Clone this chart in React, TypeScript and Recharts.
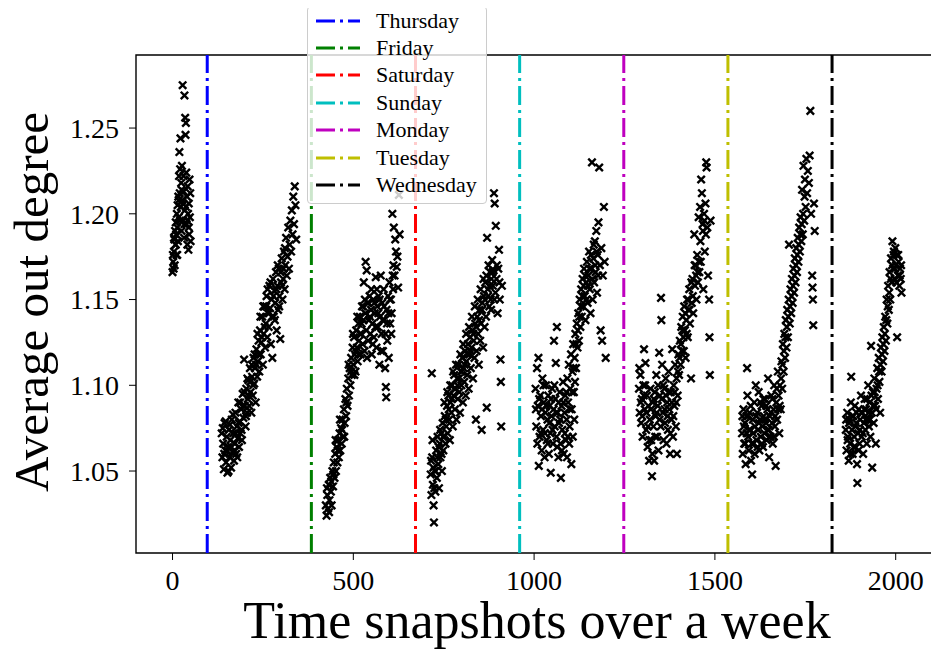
import React from 'react'
import {
  ScatterChart,
  Scatter,
  XAxis,
  YAxis,
  ReferenceLine,
  ReferenceArea,
  Label,
} from 'recharts'

// snapshots (x) and average out degree (y), one list per stretch of the week
const thursdayEarly = [
  [0, 1.166], [2, 1.172], [3, 1.168], [4, 1.178], [5, 1.185], [6, 1.17], [7, 1.19], [8, 1.182],
  [9, 1.195], [10, 1.188], [11, 1.176], [12, 1.2], [13, 1.192], [14, 1.205], [15, 1.184], [16, 1.21],
  [17, 1.198], [18, 1.222], [19, 1.236], [20, 1.212], [21, 1.226], [22, 1.244], [23, 1.204], [24, 1.218],
  [25, 1.19], [26, 1.228], [27, 1.208], [28, 1.275], [29, 1.196], [30, 1.222], [31, 1.213], [32, 1.186],
  [33, 1.269], [34, 1.202], [35, 1.256], [36, 1.246], [37, 1.253], [38, 1.224], [39, 1.194], [40, 1.21],
  [41, 1.182], [42, 1.216], [43, 1.2], [44, 1.179], [45, 1.206], [46, 1.188], [47, 1.22], [48, 1.198],
  [50, 1.184], [1, 1.176], [4, 1.186], [9, 1.182], [13, 1.176], [17, 1.208], [21, 1.196], [25, 1.214],
  [29, 1.206], [33, 1.194], [37, 1.204], [41, 1.196], [45, 1.192], [49, 1.212],
]

const thursdayLate = [
  [136, 1.072], [138, 1.058], [140, 1.066], [142, 1.051], [144, 1.078], [146, 1.062], [148, 1.055],
  [150, 1.07], [152, 1.049], [154, 1.064], [156, 1.074], [158, 1.058], [160, 1.068], [162, 1.052],
  [164, 1.08], [166, 1.061], [168, 1.072], [170, 1.056], [172, 1.066], [174, 1.084], [176, 1.06],
  [178, 1.076], [180, 1.069], [182, 1.09], [184, 1.064], [186, 1.079], [188, 1.072], [190, 1.086],
  [192, 1.068], [194, 1.095], [196, 1.081], [198, 1.115], [200, 1.088], [202, 1.076], [204, 1.098],
  [206, 1.084], [208, 1.092], [210, 1.103], [212, 1.088], [214, 1.11], [216, 1.096], [218, 1.084],
  [220, 1.105], [222, 1.094], [224, 1.116], [226, 1.101], [228, 1.11], [230, 1.09], [232, 1.121],
  [234, 1.105], [236, 1.114], [238, 1.126], [240, 1.108], [242, 1.132], [244, 1.118], [246, 1.125],
  [248, 1.14], [250, 1.112], [252, 1.13], [254, 1.146], [256, 1.122], [258, 1.136], [260, 1.152],
  [262, 1.128], [264, 1.142], [266, 1.134], [268, 1.158], [270, 1.145], [272, 1.124], [274, 1.15],
  [276, 1.116], [278, 1.162], [280, 1.14], [282, 1.155], [284, 1.148], [286, 1.166], [288, 1.132],
  [290, 1.158], [292, 1.144], [294, 1.168], [296, 1.152], [298, 1.127], [300, 1.16], [302, 1.174],
  [304, 1.15], [306, 1.162], [308, 1.178], [310, 1.156], [312, 1.17], [314, 1.186], [316, 1.164],
  [318, 1.175], [320, 1.192], [322, 1.168], [324, 1.182], [326, 1.196], [328, 1.178], [330, 1.202],
  [332, 1.188], [334, 1.21], [336, 1.194], [338, 1.216], [340, 1.205], [342, 1.185],
  [139, 1.075], [143, 1.06], [147, 1.079], [151, 1.062], [155, 1.05], [159, 1.077], [163, 1.064],
  [167, 1.083], [171, 1.062], [175, 1.072], [179, 1.058], [183, 1.078], [187, 1.09], [191, 1.074],
  [195, 1.088], [199, 1.096], [203, 1.082], [207, 1.104], [211, 1.094], [215, 1.102], [219, 1.112],
  [223, 1.1], [227, 1.118], [231, 1.112], [235, 1.13], [239, 1.118], [243, 1.14], [247, 1.128],
  [251, 1.146], [255, 1.134], [259, 1.146], [263, 1.156], [267, 1.142], [271, 1.16], [275, 1.14],
  [279, 1.152], [283, 1.138], [287, 1.156], [291, 1.17], [295, 1.146], [299, 1.166], [303, 1.158],
  [307, 1.168], [311, 1.18],
]

const friday = [
  [424, 1.03], [426, 1.024], [428, 1.036], [430, 1.028], [432, 1.042], [434, 1.033], [436, 1.046],
  [438, 1.038], [440, 1.03], [442, 1.05], [444, 1.041], [446, 1.055], [448, 1.046], [450, 1.06],
  [452, 1.05], [454, 1.064], [456, 1.055], [458, 1.068], [460, 1.058], [462, 1.072], [464, 1.062],
  [466, 1.075], [468, 1.066], [470, 1.08], [472, 1.07], [474, 1.086], [476, 1.078], [478, 1.092],
  [480, 1.082], [482, 1.098], [484, 1.088], [486, 1.104], [488, 1.094], [490, 1.11], [492, 1.1],
  [494, 1.116], [496, 1.106], [498, 1.122], [500, 1.112], [502, 1.128], [504, 1.118], [506, 1.108],
  [508, 1.132], [510, 1.122], [512, 1.114], [514, 1.136], [516, 1.126], [518, 1.14], [520, 1.118],
  [522, 1.13], [524, 1.146], [526, 1.124], [528, 1.138], [529, 1.16], [531, 1.12], [533, 1.142],
  [534, 1.172], [536, 1.132], [537, 1.167], [539, 1.148], [541, 1.126], [543, 1.138], [545, 1.152],
  [547, 1.13], [549, 1.144], [551, 1.118], [553, 1.136], [555, 1.15], [557, 1.128], [559, 1.142],
  [562, 1.163], [564, 1.122], [566, 1.146], [568, 1.134], [570, 1.152], [572, 1.112], [574, 1.14],
  [576, 1.164], [578, 1.13], [580, 1.148], [582, 1.12], [584, 1.156], [586, 1.138], [588, 1.11],
  [590, 1.099], [591, 1.093], [592, 1.144], [594, 1.126], [596, 1.152], [598, 1.116], [600, 1.16],
  [602, 1.136], [604, 1.15], [606, 1.142], [608, 1.2], [610, 1.156], [612, 1.192], [614, 1.164],
  [616, 1.185], [618, 1.178], [620, 1.169], [622, 1.175], [624, 1.157], [626, 1.211], [628, 1.188],
  [427, 1.04], [433, 1.026], [439, 1.044], [445, 1.048], [451, 1.068], [457, 1.062], [463, 1.08],
  [469, 1.074], [475, 1.07], [481, 1.09], [487, 1.112], [493, 1.108], [499, 1.13], [503, 1.106],
  [507, 1.12], [511, 1.14], [515, 1.118], [519, 1.13], [523, 1.136], [527, 1.146], [532, 1.15],
  [538, 1.116], [542, 1.148], [546, 1.14], [550, 1.156], [554, 1.124], [558, 1.148], [561, 1.134],
  [565, 1.156], [569, 1.142], [573, 1.15], [577, 1.12], [581, 1.138], [585, 1.146], [589, 1.13],
  [593, 1.136], [597, 1.142], [601, 1.15], [605, 1.13], [609, 1.164], [611, 1.17],
]

const saturday = [
  [714, 1.048], [716, 1.036], [717, 1.107], [718, 1.058], [720, 1.042], [722, 1.03], [723, 1.02],
  [725, 1.05], [727, 1.038], [729, 1.062], [731, 1.046], [733, 1.07], [735, 1.054], [737, 1.04],
  [739, 1.066], [741, 1.058], [743, 1.072], [745, 1.05], [747, 1.078], [749, 1.062], [751, 1.07],
  [753, 1.082], [755, 1.066], [757, 1.076], [759, 1.088], [761, 1.072], [763, 1.094], [765, 1.08],
  [767, 1.068], [769, 1.09], [771, 1.084], [773, 1.1], [775, 1.076], [777, 1.094], [779, 1.106],
  [781, 1.086], [783, 1.098], [785, 1.08], [787, 1.104], [789, 1.092], [791, 1.112], [793, 1.096],
  [795, 1.084], [797, 1.108], [799, 1.1], [801, 1.116], [803, 1.09], [805, 1.11], [807, 1.102],
  [809, 1.12], [811, 1.094], [813, 1.114], [815, 1.106], [817, 1.124], [819, 1.098], [821, 1.118],
  [823, 1.128], [825, 1.11], [827, 1.122], [829, 1.132], [831, 1.104], [833, 1.126], [835, 1.116],
  [837, 1.136], [839, 1.08], [841, 1.12], [843, 1.14], [845, 1.13], [847, 1.112], [849, 1.144],
  [851, 1.126], [853, 1.136], [855, 1.074], [857, 1.148], [859, 1.122], [861, 1.152], [863, 1.134],
  [865, 1.16], [867, 1.14], [869, 1.087], [870, 1.186], [872, 1.156], [874, 1.17], [876, 1.146],
  [878, 1.166], [880, 1.15], [882, 1.162], [884, 1.173], [886, 1.158], [888, 1.167], [889, 1.212],
  [891, 1.206], [893, 1.154], [894, 1.193], [896, 1.162], [899, 1.142], [901, 1.168], [903, 1.179],
  [905, 1.15], [907, 1.115], [908, 1.102], [909, 1.076], [911, 1.158],
  [715, 1.056], [719, 1.068], [721, 1.052], [724, 1.04], [728, 1.05], [732, 1.058], [736, 1.064],
  [740, 1.074], [744, 1.06], [748, 1.07], [752, 1.09], [756, 1.08], [760, 1.096], [764, 1.086],
  [768, 1.1], [772, 1.092], [776, 1.108], [780, 1.098], [784, 1.112], [788, 1.1], [792, 1.104],
  [796, 1.118], [800, 1.108], [804, 1.124], [808, 1.112], [812, 1.13], [816, 1.118], [820, 1.134],
  [824, 1.12], [828, 1.14], [832, 1.13], [836, 1.146], [840, 1.134], [844, 1.15], [848, 1.138],
  [852, 1.156], [856, 1.144], [860, 1.162], [864, 1.15], [868, 1.164], [873, 1.152], [877, 1.158],
  [881, 1.144], [885, 1.166], [890, 1.15], [897, 1.17], [904, 1.16],
]

const sunday = [
  [1004, 1.098], [1006, 1.076], [1008, 1.11], [1010, 1.088], [1012, 1.116], [1013, 1.053], [1015, 1.07],
  [1017, 1.094], [1019, 1.082], [1021, 1.062], [1023, 1.104], [1025, 1.074], [1027, 1.09], [1029, 1.058],
  [1031, 1.084], [1033, 1.1], [1035, 1.068], [1037, 1.08], [1039, 1.094], [1041, 1.06], [1043, 1.088],
  [1045, 1.072], [1046, 1.049], [1048, 1.082], [1050, 1.098], [1052, 1.066], [1054, 1.086], [1055, 1.126],
  [1057, 1.076], [1059, 1.092], [1060, 1.113], [1062, 1.07], [1063, 1.134], [1065, 1.084], [1067, 1.058],
  [1069, 1.078], [1071, 1.096], [1073, 1.066], [1074, 1.046], [1076, 1.088], [1078, 1.074], [1080, 1.102],
  [1082, 1.06], [1084, 1.084], [1086, 1.094], [1088, 1.068], [1090, 1.08], [1091, 1.058], [1092, 1.104],
  [1094, 1.09], [1096, 1.112], [1097, 1.066], [1098, 1.076], [1100, 1.098], [1102, 1.118], [1103, 1.054],
  [1104, 1.086], [1106, 1.108], [1107, 1.07], [1108, 1.124], [1110, 1.096], [1111, 1.08], [1112, 1.116],
  [1114, 1.13], [1116, 1.11], [1118, 1.136], [1120, 1.122], [1122, 1.142], [1124, 1.126], [1126, 1.15],
  [1128, 1.134], [1130, 1.156], [1132, 1.14], [1134, 1.162], [1136, 1.146], [1138, 1.168], [1140, 1.152],
  [1142, 1.138], [1144, 1.16], [1146, 1.172], [1148, 1.148], [1150, 1.164], [1152, 1.178], [1154, 1.156],
  [1156, 1.142], [1158, 1.168], [1160, 1.23], [1162, 1.15], [1164, 1.174], [1166, 1.16], [1168, 1.184],
  [1170, 1.166], [1172, 1.19], [1174, 1.154], [1176, 1.176], [1178, 1.195], [1180, 1.227], [1182, 1.17],
  [1184, 1.132], [1186, 1.18], [1188, 1.126], [1190, 1.164], [1193, 1.204], [1195, 1.172], [1198, 1.116],
  [1005, 1.086], [1009, 1.066], [1014, 1.092], [1018, 1.072], [1022, 1.086], [1026, 1.1], [1030, 1.072],
  [1034, 1.088], [1038, 1.066], [1042, 1.078], [1047, 1.092], [1051, 1.074], [1056, 1.1], [1061, 1.084],
  [1064, 1.064], [1068, 1.09], [1072, 1.08], [1077, 1.062], [1081, 1.09], [1085, 1.072], [1089, 1.096],
  [1093, 1.07], [1099, 1.086], [1105, 1.096], [1109, 1.11], [1113, 1.102], [1117, 1.124], [1121, 1.132],
  [1125, 1.14], [1129, 1.146], [1133, 1.152], [1137, 1.158], [1141, 1.164], [1145, 1.15], [1149, 1.158],
  [1153, 1.168], [1157, 1.176], [1161, 1.162], [1165, 1.182], [1169, 1.17], [1173, 1.178], [1177, 1.164],
]

const monday = [
  [1290, 1.098], [1292, 1.084], [1294, 1.106], [1296, 1.078], [1298, 1.092], [1300, 1.07], [1302, 1.1],
  [1304, 1.121], [1306, 1.086], [1308, 1.113], [1310, 1.074], [1312, 1.094], [1314, 1.064], [1316, 1.088],
  [1318, 1.056], [1320, 1.08], [1322, 1.098], [1324, 1.068], [1326, 1.047], [1328, 1.09], [1330, 1.076],
  [1332, 1.056], [1334, 1.096], [1336, 1.082], [1338, 1.106], [1340, 1.07], [1342, 1.088], [1344, 1.062],
  [1346, 1.119], [1348, 1.094], [1350, 1.076], [1351, 1.151], [1352, 1.138], [1354, 1.112], [1356, 1.084],
  [1358, 1.068], [1360, 1.098], [1362, 1.078], [1364, 1.104], [1366, 1.066], [1368, 1.09], [1370, 1.074],
  [1372, 1.108], [1374, 1.086], [1376, 1.06], [1378, 1.096], [1380, 1.08], [1382, 1.121], [1384, 1.07],
  [1386, 1.1], [1388, 1.088], [1390, 1.112], [1392, 1.076], [1394, 1.104], [1395, 1.06], [1397, 1.094],
  [1399, 1.118], [1401, 1.106], [1403, 1.126], [1405, 1.112], [1407, 1.134], [1409, 1.12], [1411, 1.14],
  [1413, 1.128], [1415, 1.146], [1417, 1.132], [1419, 1.116], [1421, 1.138], [1423, 1.15], [1425, 1.128],
  [1427, 1.144], [1429, 1.156], [1431, 1.136], [1434, 1.104], [1436, 1.148], [1438, 1.162], [1440, 1.142],
  [1443, 1.188], [1445, 1.158], [1447, 1.17], [1449, 1.15], [1451, 1.176], [1453, 1.16], [1455, 1.198],
  [1457, 1.166], [1459, 1.204], [1461, 1.172], [1462, 1.22], [1464, 1.212], [1466, 1.194], [1468, 1.156],
  [1470, 1.2], [1472, 1.178], [1474, 1.206], [1476, 1.23], [1477, 1.227], [1479, 1.192], [1481, 1.164],
  [1484, 1.15], [1485, 1.128], [1486, 1.106], [1488, 1.196],
  [1291, 1.11], [1295, 1.09], [1299, 1.082], [1303, 1.094], [1307, 1.1], [1311, 1.084], [1315, 1.076],
  [1319, 1.068], [1323, 1.086], [1327, 1.06], [1331, 1.092], [1335, 1.07], [1339, 1.084], [1343, 1.1],
  [1347, 1.08], [1353, 1.092], [1357, 1.1], [1361, 1.086], [1365, 1.094], [1369, 1.082], [1373, 1.096],
  [1377, 1.072], [1381, 1.09], [1385, 1.082], [1389, 1.096], [1393, 1.09], [1398, 1.108], [1402, 1.116],
  [1406, 1.124], [1410, 1.132], [1414, 1.12], [1418, 1.142], [1422, 1.13], [1426, 1.15], [1430, 1.144],
  [1435, 1.16], [1439, 1.152], [1444, 1.17], [1448, 1.164], [1452, 1.166], [1456, 1.172], [1460, 1.184],
  [1467, 1.19], [1471, 1.196], [1475, 1.188],
]

const tuesday = [
  [1575, 1.072], [1577, 1.06], [1579, 1.086], [1581, 1.066], [1583, 1.078], [1585, 1.054], [1587, 1.082],
  [1589, 1.11], [1590, 1.094], [1592, 1.07], [1594, 1.062], [1596, 1.084], [1598, 1.074], [1600, 1.056],
  [1603, 1.048], [1605, 1.08], [1607, 1.066], [1609, 1.09], [1611, 1.076], [1613, 1.1], [1615, 1.068],
  [1617, 1.084], [1619, 1.074], [1621, 1.096], [1623, 1.062], [1625, 1.08], [1627, 1.07], [1629, 1.088],
  [1631, 1.076], [1633, 1.064], [1635, 1.082], [1637, 1.072], [1639, 1.092], [1641, 1.078], [1643, 1.068],
  [1645, 1.086], [1647, 1.104], [1649, 1.074], [1650, 1.058], [1652, 1.082], [1654, 1.07], [1656, 1.094],
  [1658, 1.078], [1660, 1.066], [1662, 1.086], [1664, 1.1], [1666, 1.076], [1668, 1.053], [1670, 1.09],
  [1672, 1.08], [1674, 1.108], [1676, 1.094], [1678, 1.072], [1680, 1.1], [1682, 1.086], [1684, 1.114],
  [1686, 1.098], [1688, 1.124], [1690, 1.108], [1692, 1.13], [1694, 1.116], [1696, 1.138], [1698, 1.122],
  [1700, 1.144], [1702, 1.128], [1704, 1.15], [1705, 1.182], [1707, 1.136], [1709, 1.156], [1711, 1.142],
  [1713, 1.162], [1715, 1.148], [1717, 1.168], [1719, 1.154], [1721, 1.174], [1723, 1.16], [1725, 1.18],
  [1727, 1.166], [1729, 1.186], [1731, 1.172], [1733, 1.192], [1735, 1.178], [1737, 1.198], [1739, 1.184],
  [1741, 1.214], [1743, 1.188], [1745, 1.228], [1747, 1.196], [1749, 1.22], [1751, 1.204], [1753, 1.232],
  [1755, 1.212], [1757, 1.225], [1760, 1.218], [1762, 1.234], [1764, 1.26], [1766, 1.2], [1769, 1.164],
  [1770, 1.157], [1771, 1.15], [1772, 1.135], [1774, 1.206], [1776, 1.19],
  [1576, 1.082], [1580, 1.076], [1584, 1.066], [1588, 1.072], [1591, 1.082], [1595, 1.074], [1599, 1.088],
  [1602, 1.066], [1606, 1.072], [1610, 1.06], [1614, 1.082], [1618, 1.064], [1622, 1.078], [1626, 1.09],
  [1630, 1.066], [1634, 1.092], [1638, 1.08], [1642, 1.088], [1646, 1.074], [1651, 1.07], [1655, 1.084],
  [1659, 1.092], [1663, 1.07], [1667, 1.082], [1671, 1.098], [1675, 1.086], [1679, 1.088], [1683, 1.104],
  [1687, 1.112], [1691, 1.12], [1695, 1.128], [1699, 1.134], [1703, 1.14], [1708, 1.146], [1712, 1.152],
  [1716, 1.158], [1720, 1.164], [1724, 1.17], [1728, 1.176], [1732, 1.182], [1736, 1.188], [1740, 1.194],
  [1744, 1.2], [1748, 1.21],
]

const wednesday = [
  [1862, 1.074], [1864, 1.062], [1866, 1.084], [1868, 1.07], [1870, 1.056], [1872, 1.08], [1874, 1.066],
  [1876, 1.09], [1877, 1.105], [1879, 1.074], [1881, 1.06], [1883, 1.082], [1885, 1.07], [1887, 1.088],
  [1889, 1.064], [1891, 1.078], [1893, 1.054], [1894, 1.043], [1896, 1.072], [1898, 1.086], [1900, 1.066],
  [1902, 1.08], [1904, 1.094], [1906, 1.07], [1908, 1.084], [1910, 1.06], [1912, 1.078], [1914, 1.092],
  [1916, 1.074], [1918, 1.086], [1920, 1.066], [1922, 1.08], [1924, 1.1], [1926, 1.076], [1928, 1.09],
  [1930, 1.07], [1932, 1.123], [1934, 1.084], [1935, 1.052], [1937, 1.096], [1939, 1.078], [1941, 1.104],
  [1943, 1.088], [1945, 1.066], [1947, 1.098], [1949, 1.11], [1951, 1.092], [1953, 1.116], [1955, 1.102],
  [1957, 1.084], [1959, 1.122], [1961, 1.108], [1963, 1.128], [1965, 1.114], [1967, 1.134], [1969, 1.12],
  [1971, 1.14], [1973, 1.126], [1975, 1.15], [1977, 1.136], [1979, 1.158], [1981, 1.144], [1983, 1.166],
  [1985, 1.15], [1987, 1.174], [1989, 1.16], [1991, 1.184], [1993, 1.168], [1995, 1.178], [1997, 1.162],
  [1999, 1.18], [2001, 1.17], [2003, 1.176], [2004, 1.128], [2006, 1.164], [2008, 1.172], [2010, 1.158],
  [2012, 1.168], [2014, 1.162], [2016, 1.154],
  [1863, 1.08], [1867, 1.068], [1871, 1.078], [1875, 1.06], [1880, 1.082], [1884, 1.064], [1888, 1.076],
  [1892, 1.084], [1897, 1.062], [1901, 1.074], [1905, 1.084], [1909, 1.072], [1913, 1.086], [1917, 1.08],
  [1921, 1.092], [1925, 1.084], [1929, 1.08], [1933, 1.094], [1938, 1.088], [1942, 1.096], [1946, 1.086],
  [1950, 1.1], [1954, 1.108], [1958, 1.112], [1962, 1.118], [1966, 1.124], [1970, 1.13], [1974, 1.138],
  [1978, 1.146], [1982, 1.154], [1986, 1.162], [1990, 1.17], [1994, 1.176], [1998, 1.168], [2002, 1.16],
  [2007, 1.176], [2011, 1.164], [2015, 1.17],
]

// day boundaries (vertical dash-dot lines)
const dayNames = ['Thursday', 'Friday', 'Saturday', 'Sunday', 'Monday', 'Tuesday', 'Wednesday']
const dayStarts = [96, 384, 672, 960, 1248, 1536, 1824]
const dayColors = ['#0000ff', '#008000', '#ff0000', '#00bfbf', '#bf00bf', '#bfbf00', '#000000']

const xTicks = [0, 500, 1000, 1500, 2000]
const yTicks = [1.05, 1.1, 1.15, 1.2, 1.25]
const xDomain = [-101, 2117]
const yDomain = [1.0022, 1.2926]

const FONT = '"Liberation Serif", "Times New Roman", serif'
const DASH = '19 5 3 5'

const points = [
  ...thursdayEarly, ...thursdayLate, ...friday, ...saturday,
  ...sunday, ...monday, ...tuesday, ...wednesday,
].map(([x, y]) => ({ x, y }))

// bold 'x' marker like matplotlib
const XMark = (props: any) => {
  const { cx, cy } = props
  if (cx == null || cy == null) return null
  const r = 3.7
  return (
    <path
      d={`M${cx - r},${cy - r}L${cx + r},${cy + r}M${cx - r},${cy + r}L${cx + r},${cy - r}`}
      stroke="#000"
      strokeWidth={2.4}
      fill="none"
    />
  )
}

export default function App() {
  const tickStyle = { fontFamily: FONT, fontSize: 28, fill: '#000' }

  return (
    <div style={{ position: 'relative', width: 931, height: 641 }}>
      <ScatterChart width={931} height={641} margin={{ top: 47, right: 1, bottom: 0, left: 0 }}>
        <XAxis
          type="number"
          dataKey="x"
          domain={xDomain}
          ticks={xTicks}
          allowDataOverflow
          height={96}
          axisLine={false}
          stroke="#000"
          tickSize={7}
          tickMargin={10}
          tick={tickStyle}
          label={
            <Label
              content={() => (
                <text x={529} y={630} textAnchor="middle" fontFamily={FONT} fontSize={52} fill="#000">
                  Time snapshots over a week
                </text>
              )}
            />
          }
        />
        <YAxis
          type="number"
          dataKey="y"
          domain={yDomain}
          ticks={yTicks}
          allowDataOverflow
          width={128}
          axisLine={false}
          stroke="#000"
          tickSize={7}
          tickMargin={10}
          tick={tickStyle}
          tickFormatter={(v: number) => v.toFixed(2)}
          label={
            <Label
              content={() => (
                <text
                  x={40}
                  y={294}
                  transform="rotate(-90, 40, 294)"
                  textAnchor="middle"
                  fontFamily={FONT}
                  fontSize={49}
                  fill="#000"
                >
                  Average out degree
                </text>
              )}
            />
          }
        />
        <Scatter data={points} shape={XMark} isAnimationActive={false} />
        {dayStarts.map((d, i) => (
          <ReferenceLine
            key={dayNames[i]}
            x={d}
            stroke={dayColors[i]}
            strokeWidth={3}
            strokeDasharray={DASH}
          />
        ))}
        <ReferenceArea
          x1={xDomain[0]}
          x2={xDomain[1]}
          y1={yDomain[0]}
          y2={yDomain[1]}
          fill="none"
          stroke="#000"
          strokeWidth={1.4}
        />
      </ScatterChart>

      {/* legend for the day lines */}
      <div
        style={{
          position: 'absolute',
          left: 299,
          top: -2,
          width: 180,
          height: 198,
          boxSizing: 'border-box',
          border: '1px solid #cccccc',
          borderRadius: 4,
          background: 'rgba(255,255,255,0.8)',
          paddingBottom: 4,
        }}
      >
        {dayNames.map((name, i) => (
          <div key={name} style={{ display: 'flex', alignItems: 'center', height: 27.4 }}>
            <svg width={44} height={6} style={{ marginLeft: 8 }}>
              <line x1={0} y1={3} x2={44} y2={3} stroke={dayColors[i]} strokeWidth={3} strokeDasharray={DASH} />
            </svg>
            <span style={{ marginLeft: 16, fontFamily: FONT, fontSize: 22, lineHeight: 1, color: '#000' }}>
              {name}
            </span>
          </div>
        ))}
      </div>
    </div>
  )
}
